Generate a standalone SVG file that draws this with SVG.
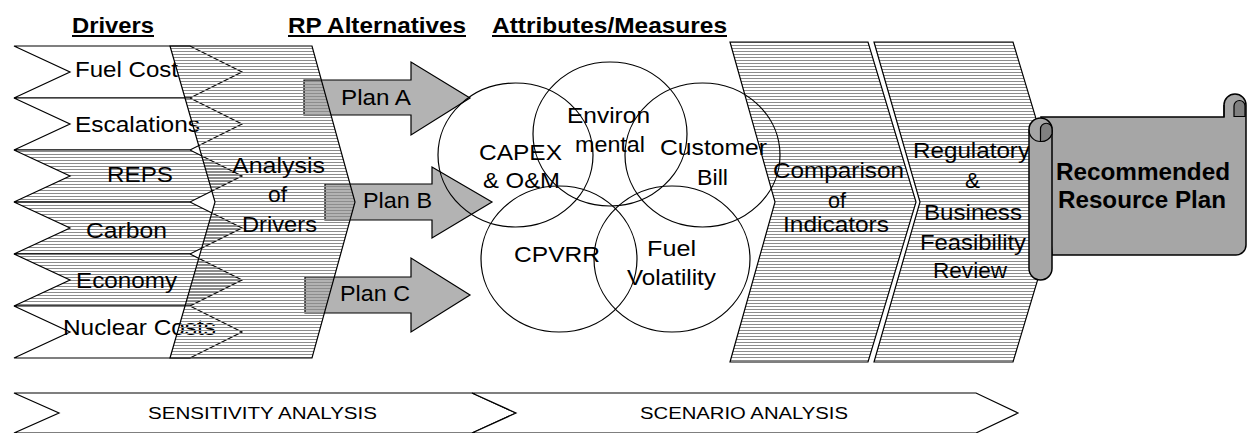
<svg xmlns="http://www.w3.org/2000/svg" width="1248" height="433" viewBox="0 0 1248 433">
<defs>
<pattern id="hatch" width="8" height="3" patternUnits="userSpaceOnUse"><rect width="8" height="1" fill="#8c8c8c"/></pattern>
<pattern id="hatchW" width="8" height="3" patternUnits="userSpaceOnUse"><rect width="8" height="3" fill="#fff"/><rect y="1" width="8" height="1" fill="#8c8c8c"/></pattern>
<pattern id="hatchW2" width="8" height="3" patternUnits="userSpaceOnUse"><rect width="8" height="3" fill="#fff"/><rect y="0" width="8" height="1" fill="#8c8c8c"/></pattern>
</defs>
<style>
.t{font-family:"Liberation Sans",Arial,sans-serif;font-size:22.5px;fill:#000}
.b{font-family:"Liberation Sans",Arial,sans-serif;font-size:22px;font-weight:bold;fill:#000}
.s{font-family:"Liberation Sans",Arial,sans-serif;font-size:16px;fill:#000}
.ln{stroke:#000;stroke-width:1.2;stroke-linejoin:miter}
.w{fill:#fff}
.hw{fill:url(#hatchW)}
.arr{fill:#b3b3b3;stroke:#000;stroke-width:1.2}
.circ{fill:none;stroke:#000;stroke-width:1.2}
.sc{fill:#a6a6a6;stroke:#000;stroke-width:1.5}
.dk{fill:#808080;stroke:#000;stroke-width:1.2}
.ul{stroke:#000;stroke-width:2}
</style>

<g id="headers">
<text class="b" x="72" y="33" textLength="82" lengthAdjust="spacingAndGlyphs">Drivers</text>
<line class="ul" x1="72" y1="36" x2="154" y2="36"/>
<text class="b" x="288" y="33" textLength="178" lengthAdjust="spacingAndGlyphs">RP Alternatives</text>
<line class="ul" x1="288" y1="36" x2="466" y2="36"/>
<text class="b" x="492" y="33" textLength="235" lengthAdjust="spacingAndGlyphs">Attributes/Measures</text>
<line class="ul" x1="492" y1="36" x2="727" y2="36"/>
</g>

<g id="drivers">
<g id="d-fuel"><path class="ln w" d="M14,46 H190 L242,72 L190,98 H14 L70,72 Z"/><text class="t" x="75" y="77" textLength="103" lengthAdjust="spacingAndGlyphs">Fuel Cost</text></g>
<g id="d-esc"><path class="ln w" d="M14,98 H190 L242,124 L190,150 H14 L70,124 Z"/><text class="t" x="75" y="132" textLength="125" lengthAdjust="spacingAndGlyphs">Escalations</text></g>
<g id="d-reps"><path class="ln hw" d="M14,150 H190 L242,176 L190,202 H14 L70,176 Z"/><text class="t" x="107" y="182" textLength="66" lengthAdjust="spacingAndGlyphs">REPS</text></g>
<g id="d-carbon"><path class="ln hw" d="M14,202 H190 L242,228 L190,254 H14 L70,228 Z"/><text class="t" x="86" y="238" textLength="81" lengthAdjust="spacingAndGlyphs">Carbon</text></g>
<g id="d-economy"><path class="ln hw" d="M14,254 H190 L242,280 L190,306 H14 L70,280 Z"/><text class="t" x="76" y="288" textLength="101" lengthAdjust="spacingAndGlyphs">Economy</text></g>
<g id="d-nuclear"><path class="ln w" d="M14,306 H190 L242,332 L190,358 H14 L70,332 Z"/><text class="t" x="63" y="335" textLength="153" lengthAdjust="spacingAndGlyphs">Nuclear Costs</text></g>
</g>

<g id="plans">
<g id="planA"><path class="arr" d="M304,80 H411 V62 L470,98 L411,135 V115 H304 Z"/></g>
<g id="planB"><path class="arr" d="M325,184 H432 V167 L492,202 L432,238 V220 H325 Z"/></g>
<g id="planC"><path class="arr" d="M305,277 H411 V258 L470,295 L411,332 V313 H305 Z"/></g>
</g>

<g id="analysis">
<path class="ln" fill="url(#hatch)" d="M170,46 H312 L355,202 L312,358 H170 L215,202 Z"/>
<text class="t" x="232" y="173" textLength="93" lengthAdjust="spacingAndGlyphs">Analysis</text>
<text class="t" x="268" y="202" textLength="19" lengthAdjust="spacingAndGlyphs">of</text>
<text class="t" x="242" y="232" textLength="75" lengthAdjust="spacingAndGlyphs">Drivers</text>
</g>

<g id="plan-labels">
<text class="t" x="341" y="105" textLength="70" lengthAdjust="spacingAndGlyphs">Plan A</text>
<text class="t" x="363" y="208" textLength="69" lengthAdjust="spacingAndGlyphs">Plan B</text>
<text class="t" x="340" y="301" textLength="70" lengthAdjust="spacingAndGlyphs">Plan C</text>
</g>

<g id="comparison">
<path class="ln" fill="url(#hatchW2)" d="M730,42 H868 L916,202 L868,362 H730 L775,202 Z"/>
<text class="t" x="773" y="178" textLength="131" lengthAdjust="spacingAndGlyphs">Comparison</text>
<text class="t" x="828" y="208" textLength="18" lengthAdjust="spacingAndGlyphs">of</text>
<text class="t" x="783" y="232" textLength="106" lengthAdjust="spacingAndGlyphs">Indicators</text>
</g>

<g id="regulatory">
<path class="ln" fill="url(#hatchW2)" d="M874,42 H1013 L1061,202 L1013,362 H874 L920,202 Z"/>
<text class="t" x="913" y="158" textLength="117" lengthAdjust="spacingAndGlyphs">Regulatory</text>
<text class="t" x="965" y="188" textLength="15" lengthAdjust="spacingAndGlyphs">&amp;</text>
<text class="t" x="924" y="220" textLength="98" lengthAdjust="spacingAndGlyphs">Business</text>
<text class="t" x="920" y="250" textLength="106" lengthAdjust="spacingAndGlyphs">Feasibility</text>
<text class="t" x="933" y="278" textLength="74" lengthAdjust="spacingAndGlyphs">Review</text>
</g>

<g id="attributes">
<g id="capex"><ellipse class="circ" cx="515.5" cy="155" rx="77.5" ry="72"/>
<text class="t" x="479" y="160" textLength="83" lengthAdjust="spacingAndGlyphs">CAPEX</text>
<text class="t" x="483" y="188" textLength="77" lengthAdjust="spacingAndGlyphs">&amp; O&amp;M</text></g>
<g id="environ"><ellipse class="circ" cx="610" cy="134" rx="77" ry="72"/>
<text class="t" x="567" y="123" textLength="83" lengthAdjust="spacingAndGlyphs">Environ</text>
<text class="t" x="575" y="152" textLength="70" lengthAdjust="spacingAndGlyphs">mental</text></g>
<g id="customer"><ellipse class="circ" cx="702.5" cy="155" rx="77.5" ry="72"/>
<text class="t" x="660" y="155" textLength="107" lengthAdjust="spacingAndGlyphs">Customer</text>
<text class="t" x="697" y="185" textLength="31" lengthAdjust="spacingAndGlyphs">Bill</text></g>
<g id="cpvrr"><ellipse class="circ" cx="559" cy="259" rx="78" ry="73"/>
<text class="t" x="514" y="262" textLength="86" lengthAdjust="spacingAndGlyphs">CPVRR</text></g>
<g id="fuelvol"><ellipse class="circ" cx="672" cy="259" rx="78" ry="73"/>
<text class="t" x="647" y="256" textLength="49" lengthAdjust="spacingAndGlyphs">Fuel</text>
<text class="t" x="627" y="285" textLength="89" lengthAdjust="spacingAndGlyphs">Volatility</text></g>
</g>

<g id="scroll">
<path class="sc" d="M1041,117 H1224 V105 A11,11 0 0 1 1246,105 V245 A10,10 0 0 1 1236,255 H1052 Z"/>
<path class="dk" d="M1234,116.5 V106 A5.5,5.5 0 0 1 1245,106 V116.5 Z"/>
<line class="ln" x1="1224" y1="105" x2="1224" y2="117"/>
<rect class="sc" x="1029" y="118" width="23" height="162" rx="11.5" ry="11.5"/>
<path class="ln" fill="none" d="M1029,130 A11.5,11.5 0 0 0 1052,130"/>
<path class="dk" d="M1040.5,141.5 V129 A5.75,5.75 0 0 1 1052,129 V134 A11.5,11.5 0 0 1 1040.5,141.5 Z"/>
<text class="b" style="font-size:23px" x="1056" y="180" textLength="174" lengthAdjust="spacingAndGlyphs">Recommended</text>
<text class="b" style="font-size:23px" x="1058" y="208" textLength="168" lengthAdjust="spacingAndGlyphs">Resource Plan</text>
</g>

<g id="phases">
<g id="sensitivity"><path class="ln w" d="M14,393 H472 L516,413 L472,433 H14 L59,413 Z"/>
<text class="s" x="148" y="419" textLength="229" lengthAdjust="spacingAndGlyphs">SENSITIVITY ANALYSIS</text></g>
<g id="scenario"><path class="ln w" d="M472,393 H976 L1018,413 L976,433 H472 L516,413 Z"/>
<text class="s" x="640" y="419" textLength="208" lengthAdjust="spacingAndGlyphs">SCENARIO ANALYSIS</text></g>
</g>
</svg>
